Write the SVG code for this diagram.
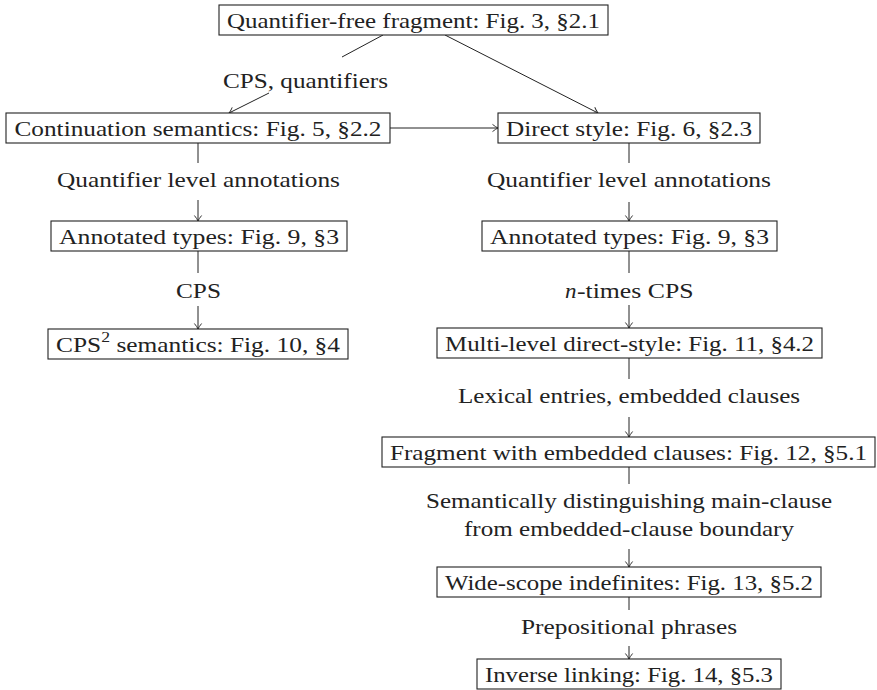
<svg xmlns="http://www.w3.org/2000/svg" width="877" height="690" viewBox="0 0 877 690">
<style>
.box{fill:#fff;stroke:#222;stroke-width:1.1}
.t{font-size:21.5px;fill:#222;text-anchor:middle}
.ts{font-size:21.5px;fill:#222}
.edge{fill:none;stroke:#222;stroke-width:1}
</style>
<defs>
<marker id="arr" markerUnits="userSpaceOnUse" markerWidth="12" markerHeight="12" viewBox="-8 -6 10 12" refX="0" refY="0" orient="auto">
<path d="M-5.5,-3.6 Q-2,-0.8 0,0 Q-2,0.8 -5.5,3.6" fill="none" stroke="#222" stroke-width="0.9"/>
</marker>
</defs>
<rect width="877" height="690" fill="#fff"/>
<g font-family="'Liberation Serif', 'DejaVu Serif', 'Times New Roman', Times, serif">
<g id="edges">
<g id="e1"><path class="edge" d="M383,35 L342,57"/><path class="edge" d="M269,93 L229,113" marker-end="url(#arr)"/>
<text class="t" x="305.5" y="88" textLength="165" lengthAdjust="spacingAndGlyphs">CPS, quantifiers</text></g>
<g id="e2"><path class="edge" d="M445,35 L598,113" marker-end="url(#arr)"/></g>
<g id="e3"><path class="edge" d="M390,128 L498,128" marker-end="url(#arr)"/></g>
<g id="e4"><path class="edge" d="M198,143 V163"/><path class="edge" d="M198,200 V221" marker-end="url(#arr)"/>
<text class="t" x="198.5" y="187" textLength="283" lengthAdjust="spacingAndGlyphs">Quantifier level annotations</text></g>
<g id="e5"><path class="edge" d="M198,251 V273"/><path class="edge" d="M198,306 V329" marker-end="url(#arr)"/>
<text class="t" x="198.5" y="298" textLength="45" lengthAdjust="spacingAndGlyphs">CPS</text></g>
<g id="e6"><path class="edge" d="M629,143 V163"/><path class="edge" d="M629,202 V221" marker-end="url(#arr)"/>
<text class="t" x="629" y="187" textLength="284" lengthAdjust="spacingAndGlyphs">Quantifier level annotations</text></g>
<g id="e7"><path class="edge" d="M629,251 V273"/><path class="edge" d="M629,305 V328" marker-end="url(#arr)"/>
<text class="ts" x="565" y="298" font-style="italic" textLength="11.5" lengthAdjust="spacingAndGlyphs">n</text>
<text class="ts" x="577" y="298" textLength="116.5" lengthAdjust="spacingAndGlyphs">-times CPS</text></g>
<g id="e8"><path class="edge" d="M629,358 V379"/><path class="edge" d="M629,417 V437" marker-end="url(#arr)"/>
<text class="t" x="629" y="403" textLength="342" lengthAdjust="spacingAndGlyphs">Lexical entries, embedded clauses</text></g>
<g id="e9"><path class="edge" d="M629,467 V484"/><path class="edge" d="M629,549 V567" marker-end="url(#arr)"/>
<text class="t" x="629" y="507.5" textLength="406" lengthAdjust="spacingAndGlyphs">Semantically distinguishing main-clause</text>
<text class="t" x="629" y="535.5" textLength="330" lengthAdjust="spacingAndGlyphs">from embedded-clause boundary</text></g>
<g id="e10"><path class="edge" d="M629,597 V610"/><path class="edge" d="M629,646 V659" marker-end="url(#arr)"/>
<text class="t" x="629" y="633.5" textLength="216" lengthAdjust="spacingAndGlyphs">Prepositional phrases</text></g>
</g>
<g id="n1"><rect class="box" x="219" y="5" width="389" height="30"/>
<text class="t" x="413.5" y="27.5" textLength="373" lengthAdjust="spacingAndGlyphs">Quantifier-free fragment: Fig. 3, §2.1</text></g>
<g id="n2"><rect class="box" x="6" y="113" width="384" height="30"/>
<text class="t" x="198" y="135.5" textLength="367" lengthAdjust="spacingAndGlyphs">Continuation semantics: Fig. 5, §2.2</text></g>
<g id="n3"><rect class="box" x="498" y="113" width="262" height="30"/>
<text class="t" x="629" y="135.5" textLength="246" lengthAdjust="spacingAndGlyphs">Direct style: Fig. 6, §2.3</text></g>
<g id="n4"><rect class="box" x="51" y="221" width="296" height="30"/>
<text class="t" x="199" y="243.5" textLength="280" lengthAdjust="spacingAndGlyphs">Annotated types: Fig. 9, §3</text></g>
<g id="n5"><rect class="box" x="48" y="329" width="300" height="30"/>
<text class="ts" x="56" y="351.5" textLength="284" lengthAdjust="spacingAndGlyphs">CPS<tspan font-size="15" dy="-10">2</tspan><tspan dy="10"> semantics: Fig. 10, §4</tspan></text></g>
<g id="n6"><rect class="box" x="482" y="221" width="295" height="30"/>
<text class="t" x="629.5" y="243.5" textLength="279" lengthAdjust="spacingAndGlyphs">Annotated types: Fig. 9, §3</text></g>
<g id="n7"><rect class="box" x="437" y="328" width="385" height="30"/>
<text class="t" x="629.5" y="350.5" textLength="369" lengthAdjust="spacingAndGlyphs">Multi-level direct-style: Fig. 11, §4.2</text></g>
<g id="n8"><rect class="box" x="382" y="437" width="493" height="30"/>
<text class="t" x="628.5" y="459.5" textLength="477" lengthAdjust="spacingAndGlyphs">Fragment with embedded clauses: Fig. 12, §5.1</text></g>
<g id="n9"><rect class="box" x="437" y="567" width="384" height="30"/>
<text class="t" x="629" y="589.5" textLength="368" lengthAdjust="spacingAndGlyphs">Wide-scope indefinites: Fig. 13, §5.2</text></g>
<g id="n10"><rect class="box" x="477" y="659" width="304" height="30"/>
<text class="t" x="629" y="681.5" textLength="288" lengthAdjust="spacingAndGlyphs">Inverse linking: Fig. 14, §5.3</text></g>
</g>
</svg>
